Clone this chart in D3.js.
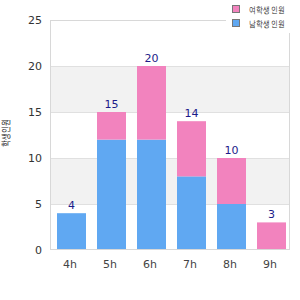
<!DOCTYPE html>
<html lang="ko">
<head>
<meta charset="UTF-8">
<script src="https://d3js.org/d3.v7.min.js"></script>
<style>
  body { margin: 0; background: #fff; }
  text { font-family: "DejaVu Sans", sans-serif; }
</style>
</head>
<body>
<div id="chart"></div>
<script>
// data
var hours = ["4h", "5h", "6h", "7h", "8h", "9h"];
var blueVals = [4, 12, 12, 8, 5, 0];
var pinkVals = [0, 3, 8, 6, 5, 3];
var seriesNames = ["여학생 인원", "남학생 인원"];
var yTicks = [0, 5, 10, 15, 20, 25];
var yTitle = "학생인원";

var pink = "#f283be", blue = "#60a8f2";

var svg = d3.select("#chart").append("svg")
    .attr("width", 300).attr("height", 300);

var x = d3.scaleBand().domain(hours).range([50, 290]);
var y = d3.scaleLinear().domain([0, 25]).range([250, 20]);

// alternating bands
var bands = d3.range(0, 25, 5);
svg.append("g").selectAll("rect").data(bands).join("rect")
    .attr("x", 50).attr("width", 240)
    .attr("y", d => y(d + 5)).attr("height", d => y(d) - y(d + 5))
    .attr("fill", (d, i) => i % 2 == 1 ? "#f2f2f2" : "#fff");

// grid lines
svg.append("g").selectAll("line").data(yTicks.slice(1, -1)).join("line")
    .attr("x1", 50).attr("x2", 290)
    .attr("y1", d => y(d) + 0.5).attr("y2", d => y(d) + 0.5)
    .attr("stroke", "#e0e0e0");

// bars
var bw = x.bandwidth();
var bars = svg.append("g");
hours.forEach(function (h, i) {
    var b = blueVals[i], p = pinkVals[i];
    if (b > 0) bars.append("rect")
        .attr("x", x(h) + bw * 0.175).attr("width", bw * 0.725)
        .attr("y", y(b)).attr("height", y(0) - y(b))
        .attr("fill", blue);
    if (p > 0) bars.append("rect")
        .attr("x", x(h) + bw * 0.175).attr("width", bw * 0.725)
        .attr("y", y(b + p)).attr("height", y(b) - y(b + p))
        .attr("fill", pink);
    bars.append("text")
        .attr("x", x(h) + bw * 0.5375).attr("y", y(b + p) - 4)
        .attr("text-anchor", "middle")
        .style("font-size", "11px").attr("fill", "#1c1c8a")
        .text(b + p);
});

// frame
svg.append("rect").attr("x", 50.5).attr("y", 20.5).attr("width", 239).attr("height", 229)
    .attr("fill", "none").attr("stroke", "#d8d8d8");

// y ticks
svg.append("g").selectAll("text").data(yTicks).join("text")
    .attr("x", 42).attr("y", d => y(d) + 4)
    .attr("text-anchor", "end")
    .style("font-size", "11px").attr("fill", "#333")
    .text(d => d);

// x labels
svg.append("g").selectAll("text").data(hours).join("text")
    .attr("x", h => x(h) + bw * 0.5).attr("y", 268)
    .attr("text-anchor", "middle")
    .style("font-size", "11px").attr("fill", "#444")
    .text(h => h);

// y title
svg.append("text")
    .attr("transform", "translate(9,133) rotate(-90)")
    .attr("text-anchor", "middle")
    .style("font-size", "10px").attr("fill", "#222")
    .attr("textLength", 27).attr("lengthAdjust", "spacingAndGlyphs")
    .text(yTitle);

// legend
var leg = svg.append("g");
leg.append("rect").attr("x", 226).attr("y", 0).attr("width", 74).attr("height", 33).attr("fill", "#fff");
[pink, blue].forEach(function (c, i) {
    leg.append("rect").attr("x", 232.5).attr("y", 5.5 + i * 14).attr("width", 7).attr("height", 7)
        .attr("fill", c).attr("stroke", "#777");
    leg.append("text").attr("x", 249).attr("y", 13 + i * 14)
        .style("font-size", "9px").attr("fill", "#222")
        .attr("textLength", 36).attr("lengthAdjust", "spacingAndGlyphs")
        .text(seriesNames[i]);
});
</script>
</body>
</html>
